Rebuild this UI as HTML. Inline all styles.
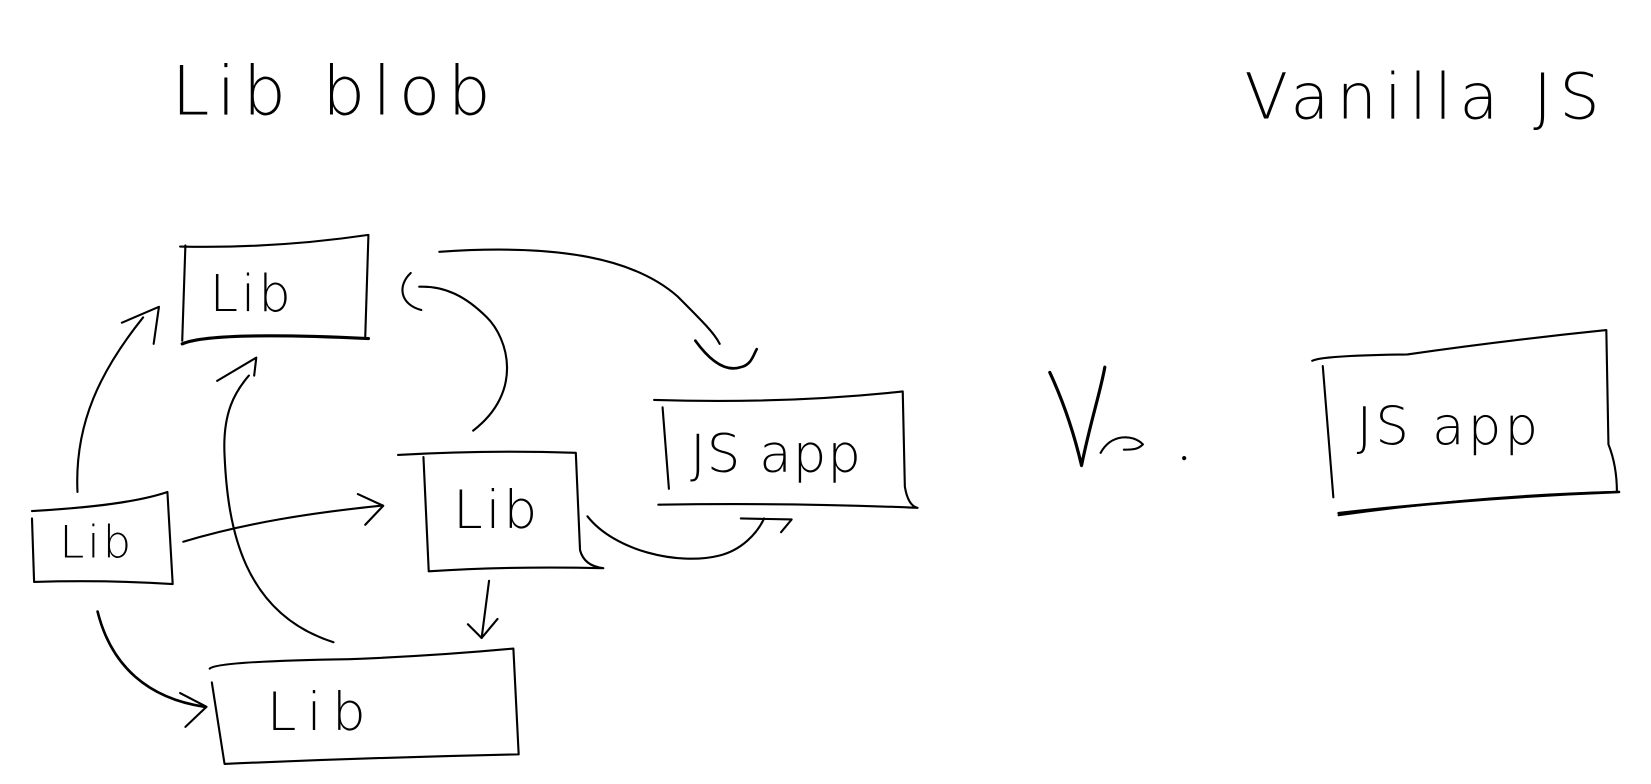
<!DOCTYPE html>
<html><head><meta charset="utf-8"><style>
html,body{margin:0;padding:0;background:#fff;}
svg{display:block}
text{font-family:"DejaVu Sans","Liberation Sans",sans-serif;font-weight:200;fill:#000}
</style></head><body>
<svg width="1651" height="784" viewBox="0 0 1560 741" xmlns="http://www.w3.org/2000/svg">
<g fill="none" stroke="#000" stroke-width="2" stroke-linecap="round" stroke-linejoin="round">
<path d="M175 232 L172 322"/>
<path d="M170 233 Q260 235 348 222 L345 318"/>
<path d="M172 325 Q200 313 348 320" stroke-width="3"/>
<path d="M30 490 L32 550 Q100 548 163 552 L158 465 Q120 478 30 483"/>
<path d="M376 430 Q460 425 544 428 L548 520 Q552 535 570 537 Q480 535 405 540 L400 432" />
<path d="M618 378 Q740 382 853 370 L855 460 Q858 478 867 480 Q750 475 622 477"/>
<path d="M626 385 L632 462"/>
<path d="M198 632 Q205 625 330 623 Q410 620 485 613 L490 713 Q350 716 212 722 L200 645"/>
<path d="M1240 341 Q1250 336 1330 335 Q1420 322 1518 312 L1520 420 Q1528 440 1528 465 Q1400 468 1265 487" />
<path d="M1250 346 L1260 470"/>
<path d="M1265 485 Q1400 470 1530 465" stroke-width="2.5"/>
<path d="M73 465 C70 400 95 350 135 300"/>
<path d="M115 305 L150 290 L145 325"/>
<path d="M315 607 C230 580 215 500 212 430 C210 390 222 370 235 355"/>
<path d="M205 360 L242 338 L240 355"/>
<path d="M173 512 C230 495 290 485 360 478"/>
<path d="M338 467 L362 478 L345 496"/>
<path d="M92 578 C105 630 140 660 193 668" stroke-width="2.5"/>
<path d="M170 655 L195 668 L175 687"/>
<path d="M462 549 L455 603"/>
<path d="M442 590 L455 603 L470 585"/>
<path d="M555 488 C580 520 640 535 680 525 C700 520 715 505 722 490"/>
<path d="M700 490 L748 491 L738 503"/>
<path d="M447 407 C495 370 480 320 460 300 C440 280 420 270 396 271"/>
<path d="M388 258 C375 270 378 288 398 293"/>
<path d="M415 238 C530 230 600 245 640 280 C665 305 675 315 680 325"/>
<path d="M657 322 C670 340 685 352 700 347 C710 345 712 335 715 330" stroke-width="2.5"/>
<path d="M992 352 C1005 380 1015 410 1022 440 C1030 400 1040 370 1044 347" stroke-width="3"/>
<path d="M1040 428 C1050 410 1070 410 1080 420 C1075 425 1070 425 1062 425"/>
<circle cx="1119" cy="433" r="1" fill="#000"/>
</g>
<text x="162" y="108" font-size="64" letter-spacing="7">Lib blob</text>
<text x="1176" y="112" font-size="60" letter-spacing="7">Vanilla JS</text>
<text x="198" y="294" font-size="48" letter-spacing="3">Lib</text>
<text x="56" y="527" font-size="42" letter-spacing="3">Lib</text>
<text x="428" y="499" font-size="50" letter-spacing="3">Lib</text>
<text x="652" y="446" font-size="50" letter-spacing="1">JS app</text>
<text x="252" y="690" font-size="50" letter-spacing="10">Lib</text>
<text x="1282" y="420" font-size="50" letter-spacing="3">JS app</text>
</svg>
</body></html>
